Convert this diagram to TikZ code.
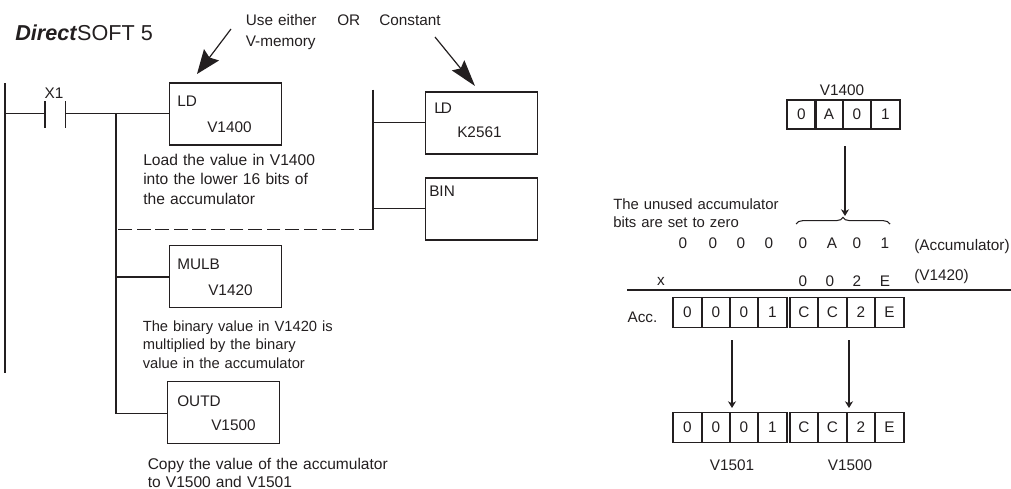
\documentclass[tikz,border=0pt]{standalone}
\usepackage{fontspec}
\setmainfont{Liberation Sans}
\usetikzlibrary{arrows.meta,decorations.pathreplacing}
\definecolor{ink}{HTML}{231F20}
\newcommand{\fs}{\fontsize{11.5pt}{14pt}\selectfont}
\tikzset{
  x=0.75pt,y=-0.75pt,
  wire/.style={draw=ink,line width=1.4pt},
  thin wire/.style={draw=ink,line width=1.1pt},
  txt/.style={inner sep=0pt,text=ink,font=\fs},
  lefttxt/.style={txt,anchor=west},
  para/.style={txt,anchor=north west,align=left},
  box/.style={draw=ink,line width=1.25pt,fill=none,anchor=north west,minimum width=112*0.75pt,minimum height=62*0.75pt,outer sep=0pt},
  cell/.style={draw=ink,line width=1.25pt,minimum width=28.4*0.75pt,minimum height=30*0.75pt,inner sep=0pt,text=ink,font=\fs,outer sep=0pt},
  bigarrowa/.style={draw=ink,line width=0.9pt,-{Stealth[length=18pt,width=14pt,inset=2.5pt]}},
  bigarrowb/.style={draw=ink,line width=0.9pt,-{Stealth[length=20pt,width=12pt,inset=3pt]}},
  downarrow/.style={draw=ink,line width=1.1pt,-{Stealth[length=5pt,width=6pt,inset=1.5pt]}},
}
\begin{document}
\begin{tikzpicture}
\useasboundingbox (0,0) rectangle (1011,489);
% title
\node[lefttxt,font=\fontsize{16.2pt}{18pt}\selectfont] (title) at (15,33) {\textbf{\textit{Direct}}SOFT 5};
% top notes
\node[para,font=\fontsize{11.5pt}{15.7pt}\selectfont,text width=90pt] (use) at (245.5,14) {Use either\\V-memory};
\node[lefttxt] (or) at (337,20) {OR};
\node[lefttxt] (constant) at (379,20) {Constant};
\coordinate (useA) at (231,29);
\coordinate (useB) at (197,74);
\coordinate (conA) at (435,37);
\coordinate (conB) at (475,86);
\draw[bigarrowa] (useA) -- (useB);
\draw[bigarrowb] (conA) -- (conB);
% rails
\coordinate (railT) at (5,83);
\coordinate (railB) at (5,372.5);
\draw[wire] (railT) -- (railB);
\coordinate (c1t) at (45,101);
\coordinate (c1b) at (45,128);
\coordinate (c2t) at (65.5,101);
\coordinate (c2b) at (65.5,128);
\coordinate (c1m) at (45,113.5);
\coordinate (c2m) at (65.5,113.5);
\coordinate (railM) at (5,113.5);
\draw[wire] (c1t) -- (c1b);
\draw[wire] (c2t) -- (c2b);
\draw[wire] (railM) -- (c1m);
\node[txt] (x1) at (54,93) {X1};
% instruction boxes
\node[box] (ld) at (169.5,83) {};
\node[box] (mulb) at (169.5,245.5) {};
\node[box] (outd) at (167.5,381.5) {};
\node[box] (ldk) at (425.5,92) {};
\node[box] (bin) at (425.5,178) {};
\node[lefttxt] (ldt) at (177,101) {LD};
\node[lefttxt] (ldv) at (207,127) {V1400};
\node[lefttxt] (mulbt) at (177,264) {MULB};
\node[lefttxt] (mulbv) at (208,290) {V1420};
\node[lefttxt] (outdt) at (177,401) {OUTD};
\node[lefttxt] (outdv) at (211,425) {V1500};
\node[lefttxt] (ldkt) at (434,108.5) {L\kern-1.5pt D};
\node[lefttxt] (ldkv) at (457,132) {K2561};
\node[lefttxt] (bint) at (429,191.5) {BIN};
% ladder wires
\coordinate (j1) at (116,113.5);
\coordinate (j2) at (116,277);
\coordinate (j3) at (116,413.5);
\coordinate (j0) at (116,229.5);
\draw[wire] (c2m) -- (ld.west |- c2m);
\draw[wire] (j1) -- (j3) -- (outd.west |- j3);
\draw[wire] (j2) -- (mulb.west |- j2);
\coordinate (r0) at (373,229.5);
\coordinate (rT) at (373,89.5);
\coordinate (r1) at (373,122.5);
\coordinate (r2) at (373,208.5);
\draw[wire] (rT) -- (r0);
\draw[thin wire] (r1) -- (ldk.west |- r1);
\draw[thin wire] (r2) -- (bin.west |- r2);
\draw[wire,dash pattern=on 10.3pt off 3.6pt] (r0) -- (j0);
% notes
\node[para,text width=200pt,font=\fontsize{11.7pt}{14.6pt}\selectfont] (n1) at (143,153.5) {Load the value in V1400\\into the lower 16 bits of\\the accumulator};
\node[para,text width=200pt,font=\fontsize{11.05pt}{13.9pt}\selectfont] (n2) at (142.5,320.5) {The binary value in V1420 is\\multiplied by the binary\\value in the accumulator};
\node[para,text width=260pt,font=\fontsize{11.65pt}{14pt}\selectfont] (n3) at (147.5,457.5) {Copy the value of the accumulator\\to V1500 and V1501};
% right: V1400
\node[txt] (v1400) at (842,90) {V1400};
\foreach \n/\t/\x in {a/0/801.5,b/A/829,c/0/857,d/1/885.5}{
  \node[cell,minimum height=29*0.75pt] (top\n) at (\x,114.5) {\t};
}
\coordinate (arT) at (845,146);
\coordinate (arB) at (845,216);
\draw[downarrow] (arT) -- (arB);
\coordinate (brL) at (796,224);
\coordinate (brR) at (890,224);
\draw[draw=ink,line width=0.8pt,decorate,decoration={brace,amplitude=5pt}] (brL) -- (brR);
\node[para,text width=160pt,font=\fontsize{11.15pt}{13.9pt}\selectfont] (unused) at (613,198) {The unused accumulator\\bits are set to zero};
% accumulator row
\foreach \t/\x/\k in {0/683/a,0/713/b,0/741/c,0/769/d,0/803/e,A/832/f,0/857/g,1/885/h}{
  \node[txt] (r\k) at (\x,243) {\t};
}
\node[lefttxt] (accu) at (914,247) {(Accumulator)};
\node[txt] (xm) at (661,281) {x};
\foreach \t/\x/\k in {0/803/a,0/830/b,2/857/c,E/885/d}{
  \node[txt] (m\k) at (\x,281) {\t};
}
\node[lefttxt] (v1420) at (914,277) {(V1420)};
\coordinate (lineL) at (627,290);
\coordinate (lineR) at (1011,290);
\draw[wire] (lineL) -- (lineR);
\node[txt] (acc) at (642.5,317) {Acc.};
% result rows
\foreach \n/\t/\x in {a/0/687.5,b/0/716,c/0/744,d/1/772.5,e/C/804,f/C/832.5,g/2/861,h/E/889.5}{
  \node[cell] (acc\n) at (\x,312.5) {\t};
  \node[cell] (res\n) at (\x,427.5) {\t};
}
\coordinate (a1T) at (732,340);
\coordinate (a1B) at (732,408);
\coordinate (a2T) at (849,340);
\coordinate (a2B) at (849,408);
\draw[downarrow] (a1T) -- (a1B);
\draw[downarrow] (a2T) -- (a2B);
\node[txt] (v1501) at (732,465) {V1501};
\node[txt] (v1500) at (850,465) {V1500};
\end{tikzpicture}
\end{document}
